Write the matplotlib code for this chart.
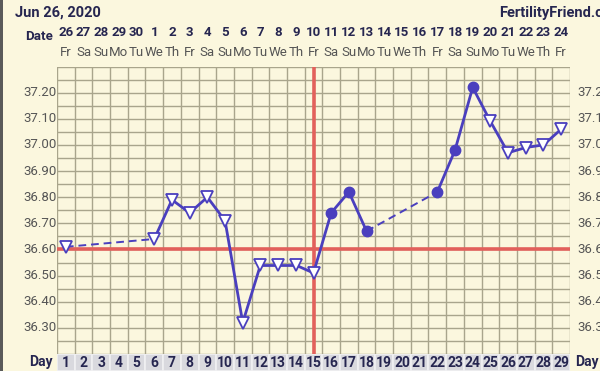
import matplotlib
matplotlib.use("Agg")
import matplotlib.pyplot as plt
from matplotlib.patches import Rectangle

plt.rcParams['font.family'] = ['Roboto', 'DejaVu Sans']

title_date = "Jun 26, 2020"
brand = "FertilityFriend.com"
cycle_days = list(range(1, 30))
dates = ["26", "27", "28", "29", "30", "1", "2", "3", "4", "5", "6", "7", "8", "9",
         "10", "11", "12", "13", "14", "15", "16", "17", "18", "19", "20", "21", "22", "23", "24"]
weekdays = ["Fr", "Sa", "Su", "Mo", "Tu", "We", "Th"] * 4 + ["Fr"]
obs_days = [1, 6, 7, 8, 9, 10, 11, 12, 13, 14, 15, 16, 17, 18, 22, 23, 24, 25, 26, 27, 28, 29]
temps = [36.61, 36.64, 36.79, 36.74, 36.80, 36.71, 36.32, 36.54, 36.54, 36.54, 36.51,
         36.74, 36.82, 36.67, 36.82, 36.98, 37.22, 37.09, 36.97, 36.99, 37.00, 37.06]
marker_kind = ["open"] * 11 + ["filled"] * 6 + ["open"] * 5
coverline = 36.60
ovulation_day = 15
ytick_vals = [36.30, 36.40, 36.50, 36.60, 36.70, 36.80, 36.90, 37.00, 37.10, 37.20]

W, H = 600, 371
bg = "#FBF7DE"
grid_c = "#A9A58C"
line_c = "#4A3FBE"
red_c = "#E2605B"
navy = "#262650"
gray_t = "#555555"

fig = plt.figure(figsize=(W / 100, H / 100), dpi=100, facecolor=bg)

x0, x1 = 57, 570
ytop, ybot = 66.5, 354
ax = fig.add_axes([x0 / W, (H - ybot) / H, (x1 - x0) / W, (ybot - ytop) / H])
ax.set_facecolor(bg)
ax.set_xlim(0.5, 29.5)
ax.set_ylim(36.20, 37.30)

# grid
for k in range(30):
    ax.axvline(0.5 + k, color=grid_c, lw=1.0, zorder=1)
v = 36.20
while v <= 37.301:
    ax.axhline(v, color=grid_c, lw=1.0, zorder=1)
    v += 0.05
for s in ax.spines.values():
    s.set_visible(False)
ax.set_xticks([])
ax.set_yticks([])

# coverline and ovulation
ax.axhline(coverline, color=red_c, lw=2.6, zorder=2)
ax.axvline(ovulation_day, color=red_c, lw=2.6, zorder=2)

# line segments
for i in range(len(obs_days) - 1):
    d0, d1 = obs_days[i], obs_days[i + 1]
    if d1 - d0 == 1:
        ax.plot([d0, d1], [temps[i], temps[i + 1]], color=line_c, lw=2.0, zorder=3,
                solid_capstyle='round')
    else:
        ax.plot([d0, d1], [temps[i], temps[i + 1]], color=line_c, lw=1.4, zorder=3,
                dashes=(4, 2.5))

for d, t, k in zip(obs_days, temps, marker_kind):
    if k == "open":
        ax.plot(d, t, marker='v', ms=9, mfc='white', mec=line_c, mew=1.3, zorder=4)
    else:
        ax.plot(d, t, marker='o', ms=7.5, mfc=line_c, mec=line_c, zorder=4)

# y tick labels both sides
for yv in ytick_vals:
    ax.text(-0.0, yv, f"{yv:.2f}", transform=ax.get_yaxis_transform(), ha='right',
            va='center', fontsize=9.5, color=gray_t)
    ax.text(1.0 + 7 / (x1 - x0), yv, f"{yv:.2f}", transform=ax.get_yaxis_transform(),
            ha='left', va='center', fontsize=9.5, color=gray_t)

col_w = (x1 - x0) / 29.0

# top rows
fig.text(15 / W, (H - 13) / H, title_date, fontsize=10.5, fontweight='bold', color=navy,
         ha='left', va='center')
fig.text(499 / W, (H - 13) / H, brand, fontsize=10.5, fontweight='bold', color=navy,
         ha='left', va='center')
fig.text(53 / W, (H - 37) / H, "Date", fontsize=9.5, fontweight='bold', color=navy,
         ha='right', va='center')
for i, (dt, wd) in enumerate(zip(dates, weekdays)):
    cx = x0 + (i + 0.5) * col_w
    fig.text(cx / W, (H - 33) / H, dt, fontsize=9.5, fontweight='bold', color=navy,
             ha='center', va='center')
    fig.text(cx / W, (H - 52) / H, wd, fontsize=9.5, color=gray_t,
             ha='center', va='center')

# day row
dax = fig.add_axes([x0 / W, 0, (x1 - x0) / W, (H - ybot) / H])
dax.set_xlim(0.5, 29.5)
dax.set_ylim(0, 1)
dax.axis('off')
for i, d in enumerate(cycle_days):
    dax.add_patch(Rectangle((d - 0.5, 0), 1, 1, facecolor="#D9D9DE", edgecolor="#F0F0F2",
                            lw=1.2))
    dax.text(d, 0.45, str(d), fontsize=10, fontweight='bold', color=navy,
             ha='center', va='center')
fig.text(53 / W, (H - 362) / H, "Day", fontsize=10, fontweight='bold', color=navy,
         ha='right', va='center')
fig.text(575 / W, (H - 362) / H, "Day", fontsize=10, fontweight='bold', color=navy,
         ha='left', va='center')

# left border
fig.patches.append(Rectangle((0, 0), 3 / W, 1, transform=fig.transFigure,
                             facecolor="#5A5A5A", edgecolor='none'))

fig.savefig("out.png", dpi=100, facecolor=bg)
